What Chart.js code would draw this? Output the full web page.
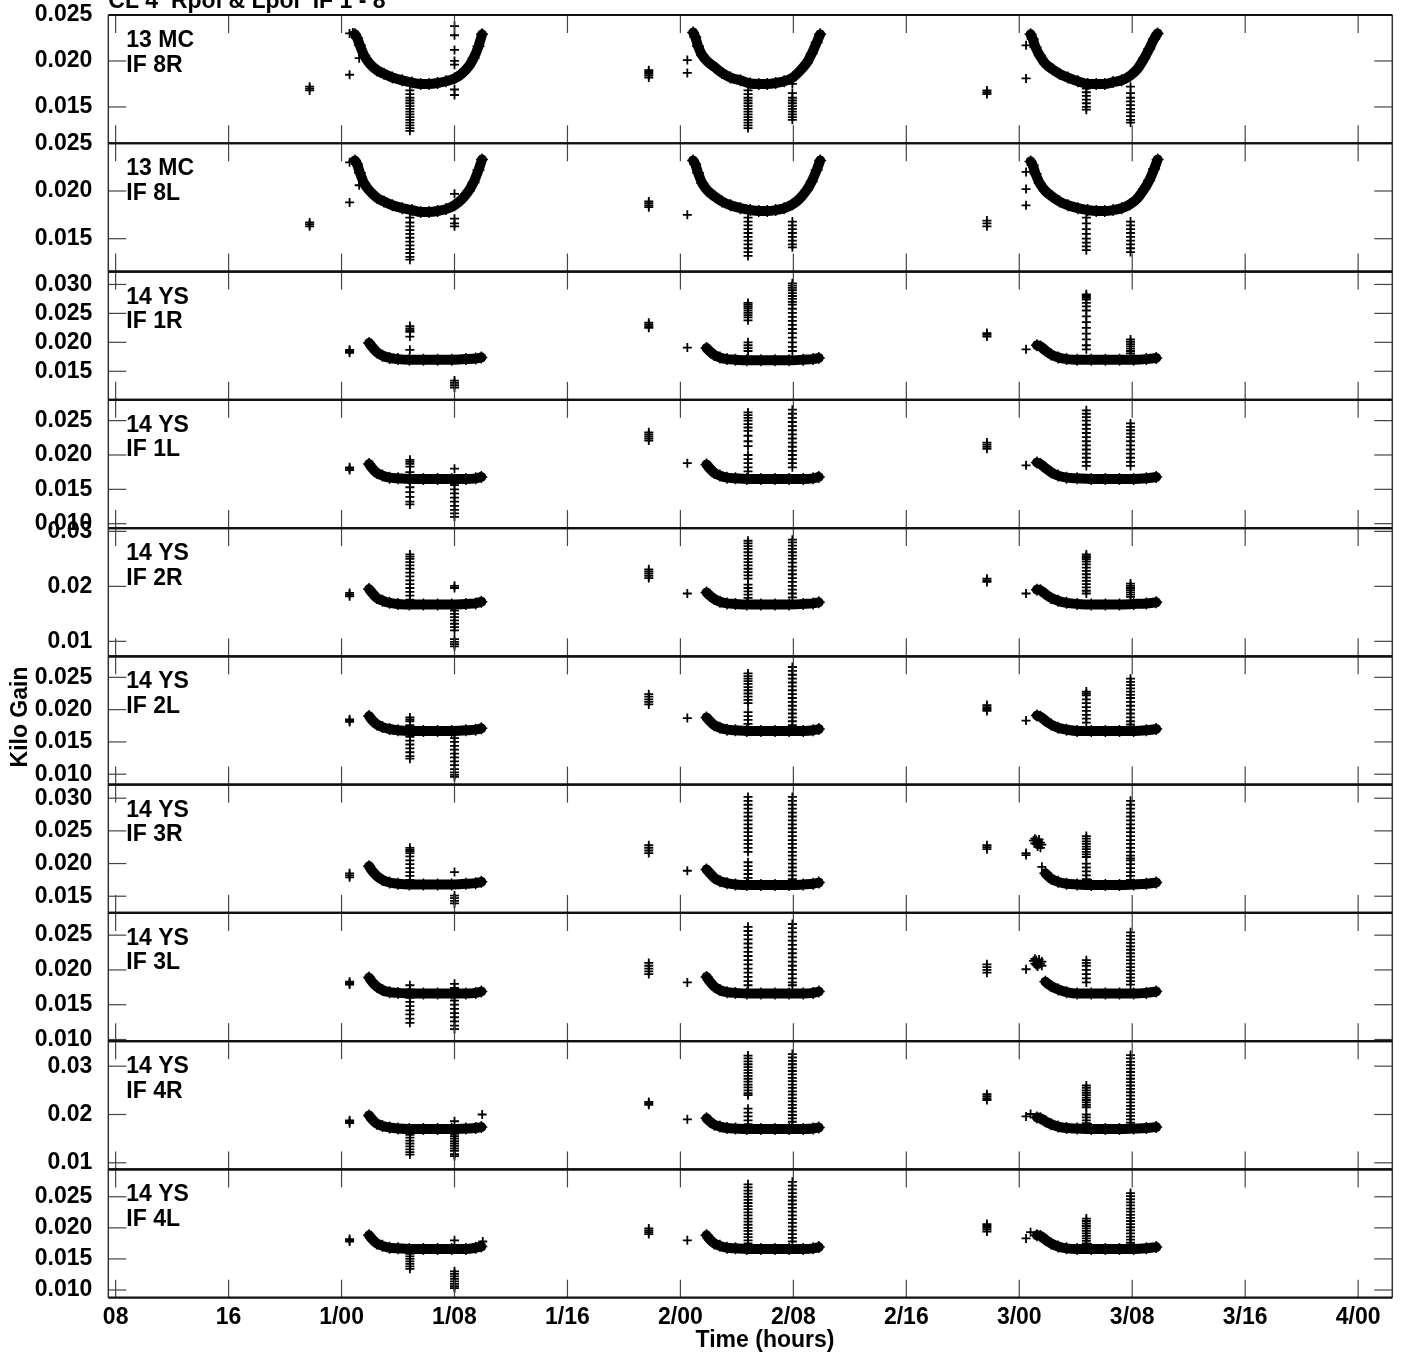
<!DOCTYPE html>
<html><head><meta charset="utf-8">
<script src="https://cdn.jsdelivr.net/npm/chart.js@4.4.1/dist/chart.umd.min.js"></script>
<style>html,body{margin:0;padding:0;background:#fff;}canvas{display:block;}</style>
</head><body>
<canvas id="c" width="1403" height="1357"></canvas>
<script>
const FONT = '"Liberation Sans", Arial, Helvetica, sans-serif';
const chartTitle = 'CL 4  Rpol & Lpol  IF 1 - 8';
const xAxisTitle = 'Time (hours)';
const yAxisTitle = 'Kilo Gain';
const xRange = [7.48, 98.42];
const xTickHours = [8, 16, 24, 32, 40, 48, 56, 64, 72, 80, 88, 96];

const panelAntennas = ['13 MC','13 MC','14 YS','14 YS','14 YS','14 YS','14 YS','14 YS','14 YS','14 YS'];
const panelIFs = ['IF 8R','IF 8L','IF 1R','IF 1L','IF 2R','IF 2L','IF 3R','IF 3L','IF 4R','IF 4L'];
const yMins = [0.01105, 0.01156, 0.01007, 0.00936, 0.00727, 0.00839, 0.01245, 0.00976, 0.00863, 0.00876];
const yMaxs = [0.025, 0.025, 0.03223, 0.02803, 0.0306, 0.02825, 0.03208, 0.0282, 0.03518, 0.0294];
const yTickValues = [
  [0.015, 0.020, 0.025], [0.015, 0.020, 0.025],
  [0.015, 0.020, 0.025, 0.030], [0.010, 0.015, 0.020, 0.025],
  [0.01, 0.02, 0.03], [0.010, 0.015, 0.020, 0.025],
  [0.015, 0.020, 0.025, 0.030], [0.010, 0.015, 0.020, 0.025],
  [0.01, 0.02, 0.03], [0.010, 0.015, 0.020, 0.025]
];
const yTickDecimals = [3, 3, 3, 3, 2, 3, 3, 3, 2, 3];

// dense solution band (13 MC)
const bandHoursMC = [
  24.95, 25.1, 25.3, 25.6, 26.0, 26.5, 27.0, 27.6, 28.3, 29.0, 29.6, 30.2, 30.8, 31.4, 32.0, 32.5, 33.0, 33.35, 33.7, 33.95, null,
  48.9, 49.05, 49.25, 49.55, 49.95, 50.45, 50.95, 51.55, 52.25, 52.95, 53.55, 54.15, 54.75, 55.35, 55.95, 56.45, 56.95, 57.3, 57.65, 57.9, null,
  72.8, 72.95, 73.15, 73.45, 73.85, 74.35, 74.85, 75.45, 76.15, 76.85, 77.45, 78.05, 78.65, 79.25, 79.85, 80.35, 80.85, 81.2, 81.55, 81.8
];
const band8R = [
  0.0229, 0.0225, 0.0217, 0.0206, 0.0197, 0.0190, 0.0186, 0.0182, 0.0179, 0.01765, 0.0175, 0.0175, 0.0176, 0.0178, 0.0181, 0.0186, 0.0194, 0.0203, 0.0216, 0.0229, null,
  0.0231, 0.0226, 0.0216, 0.0206, 0.0199, 0.0193, 0.0187, 0.0182, 0.0179, 0.01755, 0.0175, 0.0175, 0.0176, 0.0178, 0.0182, 0.0189, 0.0198, 0.0208, 0.0220, 0.0229, null,
  0.0229, 0.0224, 0.0215, 0.0206, 0.0197, 0.0191, 0.0186, 0.0182, 0.0178, 0.0175, 0.0175, 0.0175, 0.0177, 0.0179, 0.0184, 0.0191, 0.0203, 0.0213, 0.0224, 0.0230
];
const band8L = [
  0.0232, 0.0228, 0.0219, 0.0208, 0.0200, 0.0193, 0.0189, 0.0185, 0.0182, 0.0180, 0.0178, 0.0178, 0.0179, 0.0181, 0.0185, 0.0191, 0.0200, 0.0209, 0.0222, 0.0233, null,
  0.0232, 0.0228, 0.0219, 0.0208, 0.0200, 0.0194, 0.0189, 0.0185, 0.0182, 0.0180, 0.0179, 0.0179, 0.0180, 0.0182, 0.0186, 0.0192, 0.0201, 0.0210, 0.0222, 0.0232, null,
  0.0231, 0.0227, 0.0218, 0.0208, 0.0200, 0.0194, 0.0189, 0.0185, 0.0182, 0.0180, 0.0179, 0.0179, 0.0180, 0.0182, 0.0186, 0.0192, 0.0202, 0.0211, 0.0223, 0.0233
];

// dense solution band (14 YS)
const bandHoursYS = [
  25.95, 26.2, 26.5, 26.9, 27.4, 28.0, 28.8, 29.8, 30.8, 31.8, 32.8, 33.5, 33.9, null,
  49.85, 50.1, 50.4, 50.8, 51.3, 51.9, 52.7, 53.7, 54.7, 55.7, 56.7, 57.4, 57.8, null,
  73.25, 73.5, 73.85, 74.25, 74.75, 75.35, 76.1, 77.1, 78.1, 79.1, 80.1, 81.0, 81.7
];
const band1R = [
  0.0199, 0.0191, 0.0183, 0.0177, 0.0173, 0.0171, 0.0170, 0.0170, 0.0170, 0.0170, 0.0171, 0.0172, 0.0174, null,
  0.0190, 0.0184, 0.0178, 0.0174, 0.0171, 0.0170, 0.0169, 0.0169, 0.0169, 0.0169, 0.0170, 0.0171, 0.0173, null,
  0.0195, 0.0193, 0.0186, 0.0179, 0.0174, 0.0171, 0.0170, 0.0170, 0.0170, 0.0170, 0.0170, 0.0171, 0.0173
];
const band1L = [
  0.0187, 0.0180, 0.0174, 0.0170, 0.0167, 0.0166, 0.0165, 0.0165, 0.0165, 0.0165, 0.0165, 0.0166, 0.0168, null,
  0.0186, 0.0180, 0.0174, 0.0170, 0.0167, 0.0166, 0.0165, 0.0165, 0.0165, 0.0165, 0.0165, 0.0166, 0.0168, null,
  0.0189, 0.0187, 0.0181, 0.0175, 0.0170, 0.0167, 0.0166, 0.0165, 0.0165, 0.0165, 0.0165, 0.0166, 0.0168
];
const band2R = [
  0.0195, 0.0187, 0.0179, 0.0174, 0.0170, 0.0168, 0.0167, 0.0167, 0.0167, 0.0167, 0.0168, 0.0169, 0.0172, null,
  0.0189, 0.0183, 0.0177, 0.0172, 0.0169, 0.0168, 0.0167, 0.0167, 0.0167, 0.0167, 0.0168, 0.0169, 0.0171, null,
  0.0194, 0.0193, 0.0186, 0.0179, 0.0174, 0.0170, 0.0168, 0.0167, 0.0167, 0.0167, 0.0168, 0.0169, 0.0171
];
const band2L = [
  0.0190, 0.0183, 0.0177, 0.0173, 0.0170, 0.0168, 0.0167, 0.0167, 0.0167, 0.0167, 0.0168, 0.0169, 0.0171, null,
  0.0188, 0.0182, 0.0176, 0.0172, 0.0169, 0.0168, 0.0167, 0.0167, 0.0167, 0.0167, 0.0167, 0.0168, 0.0170, null,
  0.0191, 0.0189, 0.0183, 0.0177, 0.0172, 0.0169, 0.0167, 0.0167, 0.0167, 0.0167, 0.0167, 0.0168, 0.0170
];
const band3R = [
  0.0196, 0.0188, 0.0181, 0.0175, 0.0171, 0.0169, 0.0168, 0.0168, 0.0168, 0.0168, 0.0169, 0.0170, 0.0172, null,
  0.0191, 0.0185, 0.0178, 0.0173, 0.0170, 0.0168, 0.0167, 0.0167, 0.0167, 0.0167, 0.0168, 0.0169, 0.0171, null,
  null, null, 0.0185, 0.0177, 0.0172, 0.0169, 0.0168, 0.0167, 0.0167, 0.0167, 0.0168, 0.0169, 0.0171
];
const band3L = [
  0.0189, 0.0182, 0.0176, 0.0171, 0.0168, 0.0167, 0.0166, 0.0166, 0.0166, 0.0166, 0.0166, 0.0167, 0.0169, null,
  0.0190, 0.0183, 0.0176, 0.0171, 0.0168, 0.0167, 0.0166, 0.0166, 0.0166, 0.0166, 0.0166, 0.0167, 0.0169, null,
  null, null, 0.0183, 0.0177, 0.0172, 0.0168, 0.0166, 0.0166, 0.0166, 0.0166, 0.0166, 0.0167, 0.0169
];
const band4R = [
  0.0198, 0.0189, 0.0181, 0.0176, 0.0173, 0.0171, 0.0170, 0.0170, 0.0170, 0.0170, 0.0171, 0.0172, 0.0174, null,
  0.0192, 0.0185, 0.0179, 0.0175, 0.0172, 0.0171, 0.0170, 0.0170, 0.0170, 0.0170, 0.0170, 0.0171, 0.0173, null,
  0.0194, 0.0192, 0.0186, 0.0180, 0.0175, 0.0172, 0.0171, 0.0170, 0.0170, 0.0170, 0.0171, 0.0172, 0.0174
];
const band4L = [
  0.0188, 0.0181, 0.0175, 0.0171, 0.0168, 0.0167, 0.0166, 0.0166, 0.0166, 0.0166, 0.0166, 0.0168, 0.0170, null,
  0.0188, 0.0181, 0.0175, 0.0171, 0.0168, 0.0167, 0.0166, 0.0166, 0.0166, 0.0166, 0.0166, 0.0167, 0.0169, null,
  0.0188, 0.0187, 0.0181, 0.0175, 0.0170, 0.0167, 0.0166, 0.0166, 0.0166, 0.0166, 0.0166, 0.0167, 0.0169
];

// isolated solutions and outlier columns: [hour, [gains...]]
const pts8R = [
  [21.74, [0.0168, 0.0170, 0.0172]], [24.57, [0.0230, 0.0185]], [24.8, [0.0231]], [25.25, [0.0203]],
  [28.84, [0.0168, 0.0164, 0.0160, 0.0157, 0.0154, 0.0151, 0.0148, 0.0145, 0.0142, 0.0139, 0.0136, 0.0133, 0.0130, 0.0127, 0.0124]],
  [32.0, [0.0238, 0.0228, 0.0212, 0.0200, 0.0196, 0.0169, 0.0163]],
  [45.76, [0.0182, 0.0184, 0.0186, 0.0188, 0.0190]], [48.49, [0.0201, 0.0187]],
  [52.79, [0.0168, 0.0164, 0.0160, 0.0157, 0.0154, 0.0151, 0.0148, 0.0145, 0.0142, 0.0139, 0.0136, 0.0133, 0.0130, 0.0127]],
  [55.93, [0.0180, 0.0175, 0.0165, 0.0160, 0.0157, 0.0154, 0.0151, 0.0148, 0.0145, 0.0142, 0.0139, 0.0136]],
  [69.71, [0.0164, 0.0166, 0.0168]], [72.48, [0.0217, 0.0181]],
  [76.75, [0.0170, 0.0166, 0.0162, 0.0158, 0.0154, 0.0150, 0.0147]],
  [79.88, [0.0172, 0.0165, 0.0160, 0.0156, 0.0152, 0.0148, 0.0144, 0.0140, 0.0136, 0.0133]]
];
const pts8L = [
  [21.74, [0.0163, 0.0165, 0.0167]], [24.57, [0.0230, 0.0188]], [24.8, [0.0231]], [25.25, [0.0206]],
  [28.84, [0.0172, 0.0167, 0.0163, 0.0159, 0.0155, 0.0151, 0.0147, 0.0143, 0.0139, 0.0135, 0.0131, 0.0128]],
  [32.0, [0.0197, 0.0171, 0.0166, 0.0163]],
  [45.76, [0.0183, 0.0185, 0.0187, 0.0189]], [48.49, [0.0175]],
  [52.79, [0.0172, 0.0168, 0.0164, 0.0160, 0.0156, 0.0152, 0.0148, 0.0144, 0.0140, 0.0136, 0.0132]],
  [55.93, [0.0168, 0.0164, 0.0160, 0.0156, 0.0152, 0.0148, 0.0144, 0.0141]],
  [69.71, [0.0163, 0.0166, 0.0169]], [72.48, [0.0220, 0.0202, 0.0185]],
  [76.75, [0.0172, 0.0166, 0.0160, 0.0155, 0.0150, 0.0146, 0.0142, 0.0138]],
  [79.88, [0.0168, 0.0164, 0.0160, 0.0156, 0.0152, 0.0148, 0.0144, 0.0140, 0.0136]]
];
const pts1R = [
  [24.57, [0.0182, 0.0185, 0.0187]],
  [28.84, [0.0228, 0.0224, 0.0221, 0.0218, 0.0210, 0.0187]],
  [32.0, [0.0134, 0.0130, 0.0126, 0.0122]],
  [45.76, [0.0225, 0.0228, 0.0231, 0.0234]], [48.49, [0.0191]],
  [52.79, [0.0268, 0.0265, 0.0262, 0.0259, 0.0255, 0.0251, 0.0247, 0.0243, 0.0238, 0.0200, 0.0195, 0.0190, 0.0185]],
  [55.93, [0.0302, 0.0298, 0.0294, 0.0290, 0.0285, 0.0280, 0.0275, 0.0270, 0.0265, 0.0258, 0.0251, 0.0244, 0.0237, 0.0230, 0.0223, 0.0216, 0.0208, 0.0200, 0.0192, 0.0185]],
  [69.71, [0.0210, 0.0213, 0.0216]], [72.48, [0.0188]],
  [76.75, [0.0283, 0.0280, 0.0277, 0.0274, 0.0268, 0.0262, 0.0255, 0.0245, 0.0235, 0.0225, 0.0215, 0.0205, 0.0195, 0.0188]],
  [79.88, [0.0205, 0.0201, 0.0197, 0.0193, 0.0189, 0.0185, 0.0181]]
];
const pts1L = [
  [24.57, [0.0178, 0.0180, 0.0182]],
  [28.84, [0.0193, 0.0190, 0.0187, 0.0183, 0.0175, 0.0168, 0.0160, 0.0153, 0.0146, 0.0139, 0.0132, 0.0128]],
  [32.0, [0.0180, 0.0163, 0.0156, 0.0150, 0.0144, 0.0138, 0.0132, 0.0126, 0.0120, 0.0115, 0.0110]],
  [45.76, [0.0221, 0.0224, 0.0227, 0.0230, 0.0233]], [48.49, [0.0188]],
  [52.79, [0.0262, 0.0258, 0.0254, 0.0250, 0.0245, 0.0240, 0.0235, 0.0228, 0.0220, 0.0213, 0.0200, 0.0194, 0.0188, 0.0182, 0.0176]],
  [55.93, [0.0266, 0.0260, 0.0254, 0.0248, 0.0242, 0.0236, 0.0230, 0.0224, 0.0218, 0.0212, 0.0206, 0.0200, 0.0194, 0.0188, 0.0182]],
  [69.71, [0.0209, 0.0212, 0.0215, 0.0218]], [72.48, [0.0185]],
  [76.75, [0.0265, 0.0260, 0.0255, 0.0250, 0.0244, 0.0238, 0.0232, 0.0226, 0.0220, 0.0214, 0.0208, 0.0202, 0.0196, 0.0190, 0.0184]],
  [79.88, [0.0246, 0.0241, 0.0236, 0.0231, 0.0226, 0.0220, 0.0214, 0.0208, 0.0202, 0.0196, 0.0190, 0.0184]]
];
const pts2R = [
  [24.57, [0.0182, 0.0185, 0.0188]],
  [28.84, [0.0258, 0.0254, 0.0250, 0.0244, 0.0238, 0.0232, 0.0225, 0.0218, 0.0211, 0.0204, 0.0197, 0.0190, 0.0183, 0.0176]],
  [32.0, [0.0201, 0.0197, 0.0162, 0.0156, 0.0150, 0.0144, 0.0138, 0.0132, 0.0126, 0.0120, 0.0104, 0.0099, 0.0095, 0.0091]],
  [45.76, [0.0215, 0.0219, 0.0223, 0.0227, 0.0231]], [48.49, [0.0187]],
  [52.79, [0.0283, 0.0278, 0.0273, 0.0268, 0.0262, 0.0256, 0.0250, 0.0244, 0.0238, 0.0232, 0.0226, 0.0220, 0.0214, 0.0203, 0.0197, 0.0191, 0.0185, 0.0179]],
  [55.93, [0.0285, 0.0280, 0.0274, 0.0268, 0.0262, 0.0256, 0.0250, 0.0243, 0.0236, 0.0229, 0.0222, 0.0215, 0.0208, 0.0201, 0.0194, 0.0187, 0.0180]],
  [69.71, [0.0208, 0.0211, 0.0214]], [72.48, [0.0187]],
  [76.75, [0.0258, 0.0255, 0.0252, 0.0249, 0.0245, 0.0240, 0.0234, 0.0228, 0.0222, 0.0216, 0.0210, 0.0204, 0.0198, 0.0192, 0.0187]],
  [79.88, [0.0205, 0.0201, 0.0197, 0.0193, 0.0189, 0.0185, 0.0181]]
];
const pts2L = [
  [24.57, [0.0181, 0.0183, 0.0185]],
  [28.84, [0.0188, 0.0185, 0.0182, 0.0176, 0.0170, 0.0164, 0.0158, 0.0152, 0.0146, 0.0140, 0.0134, 0.0128, 0.0124]],
  [32.0, [0.0162, 0.0156, 0.0150, 0.0144, 0.0138, 0.0132, 0.0126, 0.0120, 0.0114, 0.0108, 0.0103, 0.0099, 0.0096]],
  [45.76, [0.0208, 0.0212, 0.0216, 0.0220, 0.0224]], [48.49, [0.0187]],
  [52.79, [0.0256, 0.0252, 0.0248, 0.0244, 0.0240, 0.0235, 0.0230, 0.0225, 0.0220, 0.0215, 0.0210, 0.0196, 0.0190, 0.0184, 0.0178]],
  [55.93, [0.0266, 0.0260, 0.0254, 0.0248, 0.0242, 0.0236, 0.0230, 0.0224, 0.0218, 0.0212, 0.0206, 0.0200, 0.0194, 0.0188, 0.0182, 0.0176]],
  [69.71, [0.0198, 0.0201, 0.0204, 0.0207]], [72.48, [0.0183]],
  [76.75, [0.0228, 0.0225, 0.0222, 0.0216, 0.0210, 0.0204, 0.0198, 0.0192, 0.0186, 0.0180]],
  [79.88, [0.0248, 0.0243, 0.0238, 0.0233, 0.0228, 0.0223, 0.0218, 0.0212, 0.0206, 0.0200, 0.0194, 0.0188, 0.0182, 0.0177]]
];
const pts3R = [
  [24.57, [0.0179, 0.0182, 0.0185]],
  [28.84, [0.0224, 0.0221, 0.0219, 0.0216, 0.0211, 0.0205, 0.0199, 0.0193, 0.0187, 0.0181, 0.0175, 0.0169]],
  [32.0, [0.0187, 0.0151, 0.0147, 0.0143, 0.0139]],
  [45.76, [0.0216, 0.0220, 0.0224, 0.0228]], [48.49, [0.0189]],
  [52.79, [0.0302, 0.0296, 0.0290, 0.0284, 0.0278, 0.0272, 0.0266, 0.0260, 0.0254, 0.0248, 0.0242, 0.0236, 0.0230, 0.0224, 0.0218, 0.0202, 0.0196, 0.0190, 0.0184, 0.0178]],
  [55.93, [0.0302, 0.0296, 0.0290, 0.0284, 0.0278, 0.0272, 0.0266, 0.0260, 0.0254, 0.0248, 0.0242, 0.0236, 0.0230, 0.0224, 0.0218, 0.0212, 0.0206, 0.0200, 0.0194, 0.0188, 0.0182, 0.0176]],
  [69.71, [0.0222, 0.0225, 0.0228]], [72.48, [0.0213, 0.0216]],
  [73.0, [0.0235]], [73.1, [0.0238, 0.0231]], [73.2, [0.0236, 0.0230]], [73.3, [0.0233, 0.0226]],
  [73.4, [0.0237, 0.0229]], [73.5, [0.0232, 0.0224]], [73.6, [0.0229, 0.0195]],
  [76.75, [0.0242, 0.0238, 0.0234, 0.0230, 0.0226, 0.0222, 0.0218, 0.0214, 0.0210, 0.0200, 0.0194, 0.0188, 0.0182, 0.0176]],
  [79.88, [0.0296, 0.0290, 0.0284, 0.0278, 0.0272, 0.0266, 0.0260, 0.0254, 0.0248, 0.0242, 0.0236, 0.0230, 0.0224, 0.0218, 0.0212, 0.0208, 0.0205, 0.0199, 0.0193, 0.0187, 0.0181, 0.0175]]
];
const pts3L = [
  [24.57, [0.0179, 0.0181, 0.0183]],
  [28.84, [0.0178, 0.0172, 0.0166, 0.0160, 0.0154, 0.0148, 0.0142, 0.0136, 0.0130, 0.0124]],
  [32.0, [0.0180, 0.0174, 0.0168, 0.0162, 0.0156, 0.0150, 0.0144, 0.0138, 0.0132, 0.0126, 0.0120, 0.0115]],
  [45.76, [0.0194, 0.0198, 0.0202, 0.0206, 0.0210]], [48.49, [0.0182]],
  [52.79, [0.0262, 0.0256, 0.0250, 0.0244, 0.0238, 0.0232, 0.0226, 0.0220, 0.0214, 0.0208, 0.0202, 0.0196, 0.0190, 0.0184, 0.0178]],
  [55.93, [0.0266, 0.0260, 0.0254, 0.0248, 0.0242, 0.0236, 0.0230, 0.0224, 0.0218, 0.0212, 0.0206, 0.0200, 0.0194, 0.0188, 0.0182, 0.0178]],
  [69.71, [0.0196, 0.0200, 0.0204, 0.0208]], [72.48, [0.0201]],
  [73.0, [0.0213]], [73.1, [0.0216, 0.0209]], [73.2, [0.0214, 0.0207]], [73.3, [0.0211, 0.0205]],
  [73.4, [0.0215, 0.0208]], [73.5, [0.0209]], [73.6, [0.0206, 0.0212]],
  [76.75, [0.0214, 0.0210, 0.0206, 0.0200, 0.0194, 0.0188, 0.0182]],
  [79.88, [0.0254, 0.0249, 0.0244, 0.0239, 0.0234, 0.0229, 0.0224, 0.0219, 0.0214, 0.0209, 0.0204, 0.0199, 0.0194, 0.0189, 0.0184, 0.0179]]
];
const pts4R = [
  [24.57, [0.0182, 0.0185, 0.0188]],
  [28.84, [0.0164, 0.0158, 0.0152, 0.0146, 0.0140, 0.0134, 0.0128, 0.0122, 0.0117]],
  [32.0, [0.0186, 0.0165, 0.0160, 0.0155, 0.0150, 0.0145, 0.0140, 0.0135, 0.0130, 0.0125, 0.0118, 0.0114]],
  [33.96, [0.0200]],
  [45.76, [0.0220, 0.0223, 0.0226]], [48.49, [0.0190]],
  [52.79, [0.0322, 0.0316, 0.0310, 0.0304, 0.0298, 0.0292, 0.0286, 0.0280, 0.0274, 0.0268, 0.0262, 0.0256, 0.0250, 0.0244, 0.0240, 0.0212, 0.0204, 0.0196, 0.0188, 0.0180]],
  [55.93, [0.0325, 0.0318, 0.0311, 0.0304, 0.0297, 0.0290, 0.0283, 0.0276, 0.0269, 0.0262, 0.0255, 0.0248, 0.0241, 0.0234, 0.0227, 0.0220, 0.0213, 0.0206, 0.0199, 0.0192, 0.0185, 0.0178]],
  [69.71, [0.0230, 0.0234, 0.0238, 0.0242]], [72.48, [0.0196]], [72.8, [0.0201]],
  [76.75, [0.0260, 0.0255, 0.0250, 0.0245, 0.0240, 0.0235, 0.0230, 0.0225, 0.0220, 0.0215, 0.0200, 0.0194, 0.0188, 0.0182]],
  [79.88, [0.0323, 0.0316, 0.0309, 0.0302, 0.0295, 0.0288, 0.0281, 0.0274, 0.0267, 0.0260, 0.0253, 0.0246, 0.0239, 0.0232, 0.0225, 0.0218, 0.0211, 0.0204, 0.0197, 0.0190, 0.0183, 0.0176]]
];
const pts4L = [
  [24.57, [0.0178, 0.0180, 0.0182]],
  [28.84, [0.0162, 0.0158, 0.0154, 0.0150, 0.0146, 0.0142, 0.0138, 0.0134]],
  [32.0, [0.0180, 0.0130, 0.0126, 0.0122, 0.0118, 0.0114, 0.0110, 0.0106, 0.0103]],
  [34.0, [0.0178]],
  [45.76, [0.0190, 0.0193, 0.0196, 0.0199]], [48.49, [0.0180]],
  [52.79, [0.0270, 0.0265, 0.0260, 0.0255, 0.0250, 0.0245, 0.0240, 0.0235, 0.0230, 0.0225, 0.0220, 0.0215, 0.0210, 0.0205, 0.0200, 0.0195, 0.0190, 0.0185, 0.0180, 0.0175]],
  [55.93, [0.0274, 0.0268, 0.0262, 0.0256, 0.0250, 0.0244, 0.0238, 0.0232, 0.0226, 0.0220, 0.0214, 0.0208, 0.0202, 0.0196, 0.0190, 0.0184, 0.0178]],
  [69.71, [0.0194, 0.0197, 0.0200, 0.0203, 0.0206]], [72.48, [0.0183]], [72.8, [0.0193]],
  [76.75, [0.0215, 0.0211, 0.0207, 0.0203, 0.0199, 0.0195, 0.0191, 0.0187, 0.0183, 0.0179, 0.0175]],
  [79.88, [0.0256, 0.0251, 0.0246, 0.0241, 0.0236, 0.0231, 0.0226, 0.0221, 0.0216, 0.0211, 0.0206, 0.0201, 0.0196, 0.0191, 0.0186, 0.0181, 0.0176]]
];

const bandSeries = [band8R, band8L, band1R, band1L, band2R, band2L, band3R, band3L, band4R, band4L];
const pointSeries = [pts8R, pts8L, pts1R, pts1L, pts2R, pts2L, pts3R, pts3L, pts4R, pts4L];

function fmtHour(h) {
  const d = Math.floor(h / 24), r = Math.round(h % 24);
  const hh = (r < 10 ? '0' : '') + r;
  return d === 0 ? hh : d + '/' + hh;
}

const datasets = [];
bandSeries.forEach((vals, i) => {
  const hours = i < 2 ? bandHoursMC : bandHoursYS;
  datasets.push({
    yAxisID: 'y' + i,
    showLine: true,
    borderColor: '#000',
    backgroundColor: '#000',
    borderWidth: 10,
    borderCapStyle: 'round',
    borderJoinStyle: 'round',
    cubicInterpolationMode: 'monotone',
    spanGaps: false,
    pointStyle: 'cross',
    pointRadius: 6,
    pointBorderWidth: 1.5,
    pointBorderColor: '#000',
    data: hours.map((h, k) => ({ x: h === null ? hours[k - 1] : h, y: vals[k] }))
  });
});
pointSeries.forEach((groups, i) => {
  const data = [];
  groups.forEach(([h, vs]) => vs.forEach(v => data.push({ x: h, y: v })));
  datasets.push({
    yAxisID: 'y' + i,
    showLine: false,
    pointStyle: 'cross',
    pointRadius: 4.5,
    pointBorderWidth: 1.8,
    pointBorderColor: '#000',
    backgroundColor: '#000',
    data
  });
});

const tickFont = { family: FONT, size: 23, weight: 'bold' };
const scales = {
  x: {
    type: 'linear', position: 'bottom', min: xRange[0], max: xRange[1],
    grid: { display: false }, border: { display: false },
    afterBuildTicks: s => { s.ticks = xTickHours.map(v => ({ value: v })); },
    afterFit: s => { s.height = 59.3; s.paddingLeft = 0; s.paddingRight = 0; },
    ticks: { autoSkip: false, maxRotation: 0, padding: -2, color: '#000', font: tickFont, callback: v => fmtHour(v) }
  }
};
yMins.forEach((mn, i) => {
  scales['y' + i] = {
    type: 'linear', position: 'left', stack: 'panels', stackWeight: 1, weight: 10 - i,
    min: mn, max: yMaxs[i],
    grid: { display: false }, border: { display: false },
    afterBuildTicks: s => { s.ticks = yTickValues[i].map(v => ({ value: v })); },
    afterFit: s => { s.width = 108.3; s.paddingTop = 0; s.paddingBottom = 0; },
    ticks: { autoSkip: false, padding: 8, color: '#000', font: tickFont, callback: v => Number(v).toFixed(yTickDecimals[i]) }
  };
});

const framePlugin = {
  id: 'frames',
  afterDraw(chart) {
    const ctx = chart.ctx, xs = chart.scales.x, ca = chart.chartArea;
    const line = (x1, y1, x2, y2) => { ctx.beginPath(); ctx.moveTo(x1, y1); ctx.lineTo(x2, y2); ctx.stroke(); };
    ctx.save();
    for (let i = 0; i < 10; i++) {
      const ys = chart.scales['y' + i];
      const top = ys.top, bot = ys.bottom;
      ctx.strokeStyle = '#444'; ctx.lineWidth = 1.2;
      xTickHours.forEach(h => {
        const px = xs.getPixelForValue(h);
        line(px, top, px, top + 18); line(px, bot - 18, px, bot);
      });
      yTickValues[i].forEach(v => {
        const py = ys.getPixelForValue(v);
        line(ca.left, py, ca.left + 18, py); line(ca.right - 18, py, ca.right, py);
      });
      ctx.strokeStyle = '#333'; ctx.lineWidth = 1.5;
      line(ca.left, top, ca.left, bot); line(ca.right, top, ca.right, bot);
      ctx.strokeStyle = '#111'; ctx.lineWidth = 2.2;
      line(ca.left, top, ca.right, top); line(ca.left, bot, ca.right, bot);
      ctx.fillStyle = '#000';
      ctx.font = 'bold 23px ' + FONT;
      ctx.textAlign = 'left'; ctx.textBaseline = 'alphabetic';
      ctx.fillText(panelAntennas[i], ca.left + 18, top + 32);
      ctx.fillText(panelIFs[i], ca.left + 18, top + 56.5);
    }
    ctx.font = 'bold 23px ' + FONT;
    ctx.fillStyle = '#000';
    ctx.textAlign = 'left'; ctx.textBaseline = 'alphabetic';
    ctx.fillText(chartTitle, ca.left, 8);
    ctx.textAlign = 'center';
    ctx.fillText(xAxisTitle, 765, 1347);
    ctx.translate(27, 717); ctx.rotate(-Math.PI / 2);
    ctx.fillText(yAxisTitle, 0, 0);
    ctx.restore();
  }
};

new Chart(document.getElementById('c'), {
  type: 'scatter',
  data: { datasets },
  options: {
    responsive: false, animation: false, devicePixelRatio: 1, events: [],
    layout: { padding: { top: 15, right: 10.7, bottom: 0, left: 0 } },
    plugins: { legend: { display: false }, tooltip: { enabled: false }, title: { display: false } },
    scales
  },
  plugins: [framePlugin]
});
</script>
</body></html>
